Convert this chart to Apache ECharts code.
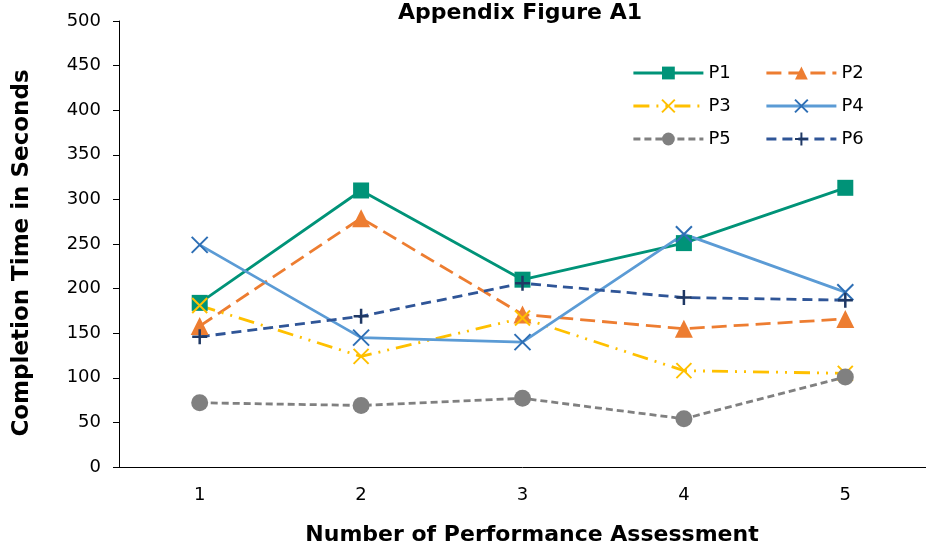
<!DOCTYPE html>
<html>
<head>
<meta charset="utf-8">
<script src="https://cdn.jsdelivr.net/npm/echarts@6/dist/echarts.min.js"></script>
<style>
html,body{margin:0;padding:0;background:#fff;}
#chart{width:926px;height:548px;}
</style>
</head>
<body>
<div id="chart"></div>
<script>
const categories = ['1', '2', '3', '4', '5'];
const yTicks = { min: 0, max: 500, interval: 50 };
const p1 = [184, 310, 210, 251, 313];
const p2 = [158, 279, 171, 155, 166];
const p3 = [181, 124, 167, 108, 105];
const p4 = [249, 145, 140, 261, 196];
const p5 = [72, 69, 77, 54, 101];
const p6 = [146, 169, 206, 190, 187];

const FONT = 'DejaVu Sans';
const X_PATH = 'path://M0,0L10,10M10,0L0,10';
const PLUS_PATH = 'path://M5,0L5,10M0,5L10,5';

function mk(name, data, lineColor, markColor, dash, symbol, size, stroked, bw) {
  return {
    name: name,
    type: 'line',
    data: data,
    symbol: symbol,
    symbolSize: size,
    showAllSymbol: true,
    lineStyle: { color: lineColor, width: 2.8, type: dash },
    itemStyle: stroked
      ? { color: markColor, borderColor: markColor, borderWidth: bw }
      : { color: markColor, borderWidth: 0 },
    emphasis: { disabled: true },
    z: 2
  };
}

const chart = echarts.init(document.getElementById('chart'), null, { renderer: 'canvas' });
const legendText = { fontFamily: FONT, fontSize: 18, color: '#000' };
const legendCommon = {
  orient: 'vertical',
  top: 59,
  itemWidth: 70, itemHeight: 16, itemGap: 15,
  textStyle: legendText,
  lineStyle: { width: 2.8 },
  selectedMode: false
};
chart.setOption({
  animation: false,
  backgroundColor: '#fff',
  title: {
    text: 'Appendix Figure A1',
    left: 515,
    textAlign: 'center',
    top: -3,
    textStyle: { fontFamily: FONT, fontSize: 22, fontWeight: 'bold', color: '#000' }
  },
  grid: { left: 119, top: 21, width: 815, height: 446, containLabel: false },
  legend: [
    Object.assign({ data: ['P1', 'P3', 'P5'], left: 627 }, legendCommon),
    Object.assign({ data: ['P2', 'P4', 'P6'], left: 760 }, legendCommon)
  ],
  xAxis: {
    type: 'category',
    data: categories,
    boundaryGap: true,
    axisLine: { lineStyle: { color: '#000', width: 1 } },
    axisTick: { alignWithLabel: true, length: 5, lineStyle: { color: '#000' } },
    axisLabel: { fontFamily: FONT, fontSize: 18, color: '#000', margin: 19 },
    splitLine: { show: false }
  },
  yAxis: {
    type: 'value',
    min: yTicks.min, max: yTicks.max, interval: yTicks.interval,
    axisLine: { show: true, lineStyle: { color: '#000', width: 1 } },
    axisTick: { show: true, length: 6, lineStyle: { color: '#000' } },
    axisLabel: { fontFamily: FONT, fontSize: 18, color: '#000', margin: 18 },
    splitLine: { show: false }
  },
  graphic: [
    {
      type: 'text',
      x: 532, y: 535,
      style: {
        text: 'Number of Performance Assessment',
        fontFamily: FONT, fontSize: 22, fontWeight: 'bold', fill: '#000',
        textAlign: 'center', textVerticalAlign: 'middle'
      }
    },
    {
      type: 'text',
      rotation: Math.PI / 2,
      x: 22, y: 253,
      style: {
        text: 'Completion Time in Seconds',
        fontFamily: FONT, fontSize: 23, fontWeight: 'bold', fill: '#000',
        textAlign: 'center', textVerticalAlign: 'middle'
      }
    }
  ],
  series: [
    mk('P1', p1, '#009378', '#009378', 'solid', 'rect', 16, false),
    mk('P2', p2, '#ED7D31', '#ED7D31', [15, 7], 'triangle', 18, false),
    mk('P3', p3, '#FFC000', '#FFC000', [16, 7, 2, 7, 2, 7], X_PATH, 15, true, 2),
    mk('P4', p4, '#5B9BD5', '#2E6FB5', 'solid', X_PATH, 16, true, 2),
    mk('P5', p5, '#808080', '#808080', [7, 4], 'circle', 17, false),
    mk('P6', p6, '#2F5597', '#1F3864', [10, 6], PLUS_PATH, 15, true, 2.5)
  ]
});
</script>
</body>
</html>
